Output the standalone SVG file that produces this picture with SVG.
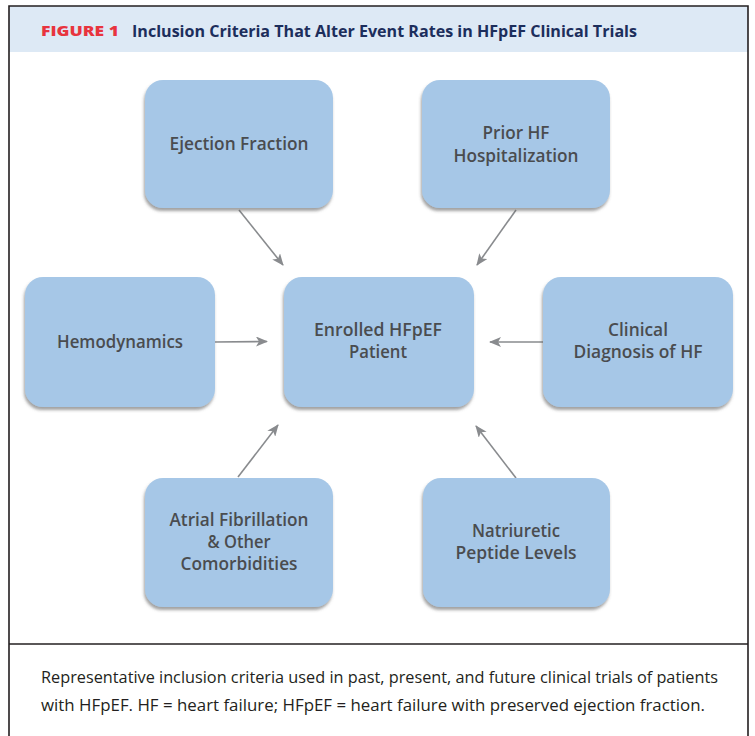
<svg xmlns="http://www.w3.org/2000/svg" width="755" height="736" viewBox="0 0 755 736">
<style>
.box{fill:#a6c7e7;filter:url(#sh);}
.lbl{font-family:"Open Sans","Liberation Sans",sans-serif;font-weight:600;font-size:17.5px;fill:#4a4c4f;text-anchor:middle;}
.cap{font-family:"Open Sans","Liberation Sans",sans-serif;font-size:15.5px;fill:#231f20;}
.arr{stroke:#898b8e;stroke-width:1.6;fill:none;marker-end:url(#ah);}
</style>
<defs>
<filter id="sh" x="-10%" y="-10%" width="120%" height="125%">
<feDropShadow dx="-1" dy="3" stdDeviation="1.8" flood-color="#555" flood-opacity="0.55"/>
</filter>
<marker id="ah" viewBox="0 0 12 10" refX="11" refY="5" markerWidth="12" markerHeight="10" markerUnits="userSpaceOnUse" orient="auto">
<path d="M0,0 L12,5 L0,10 L3,5 Z" fill="#898b8e"/>
</marker>
</defs>
<rect x="0" y="0" width="755" height="736" fill="#ffffff"/>
<rect x="9" y="6" width="739" height="46" fill="#dde9f5"/>
<path d="M9,736 V6 H748 V736" fill="none" stroke="#231f20" stroke-width="1.6"/>
<line x1="9" y1="644" x2="748" y2="644" stroke="#231f20" stroke-width="1.6"/>
<text x="41" y="36" font-family="'Open Sans','Liberation Sans',sans-serif" font-weight="800" font-size="14" fill="#e8343e" textLength="78" lengthAdjust="spacingAndGlyphs">FIGURE 1</text>
<text x="132" y="36.5" font-family="'Open Sans','Liberation Sans',sans-serif" font-weight="700" font-size="16" fill="#1c2e5c" textLength="505" lengthAdjust="spacingAndGlyphs">Inclusion Criteria That Alter Event Rates in HFpEF Clinical Trials</text>

<g id="connectors">
<line class="arr" x1="239" y1="210" x2="283" y2="265"/>
<line class="arr" x1="516" y1="210" x2="477" y2="265"/>
<line class="arr" x1="214" y1="342" x2="267" y2="341.5"/>
<line class="arr" x1="545" y1="342" x2="490" y2="342"/>
<line class="arr" x1="238" y1="477" x2="278" y2="425"/>
<line class="arr" x1="516" y1="478" x2="476" y2="426"/>
</g>

<g id="ejection">
<rect class="box" x="145" y="80" width="188" height="128" rx="18"/>
<text class="lbl" x="239" y="150" textLength="139" lengthAdjust="spacingAndGlyphs">Ejection Fraction</text>
</g>
<g id="prior">
<rect class="box" x="422" y="80" width="188" height="128" rx="18"/>
<text class="lbl" x="516" y="139" textLength="67" lengthAdjust="spacingAndGlyphs">Prior HF</text>
<text class="lbl" x="516" y="162" textLength="125" lengthAdjust="spacingAndGlyphs">Hospitalization</text>
</g>
<g id="hemo">
<rect class="box" x="25" y="277" width="190" height="130" rx="18"/>
<text class="lbl" x="120" y="348" textLength="126" lengthAdjust="spacingAndGlyphs">Hemodynamics</text>
</g>
<g id="enrolled">
<rect class="box" x="284" y="277" width="190" height="130" rx="18"/>
<text class="lbl" x="378" y="336" textLength="128" lengthAdjust="spacingAndGlyphs">Enrolled HFpEF</text>
<text class="lbl" x="378" y="358" textLength="58" lengthAdjust="spacingAndGlyphs">Patient</text>
</g>
<g id="clinical">
<rect class="box" x="543" y="277" width="190" height="130" rx="18"/>
<text class="lbl" x="638" y="336" textLength="60" lengthAdjust="spacingAndGlyphs">Clinical</text>
<text class="lbl" x="638" y="358" textLength="129" lengthAdjust="spacingAndGlyphs">Diagnosis of HF</text>
</g>
<g id="atrial">
<rect class="box" x="145" y="478" width="188" height="129" rx="18"/>
<text class="lbl" x="239" y="526" textLength="139" lengthAdjust="spacingAndGlyphs">Atrial Fibrillation</text>
<text class="lbl" x="239" y="548" textLength="63" lengthAdjust="spacingAndGlyphs">&amp; Other</text>
<text class="lbl" x="239" y="570" textLength="117" lengthAdjust="spacingAndGlyphs">Comorbidities</text>
</g>
<g id="natriuretic">
<rect class="box" x="423" y="478" width="187" height="129" rx="18"/>
<text class="lbl" x="516" y="537" textLength="88" lengthAdjust="spacingAndGlyphs">Natriuretic</text>
<text class="lbl" x="516" y="559" textLength="121" lengthAdjust="spacingAndGlyphs">Peptide Levels</text>
</g>

<text class="cap" x="41" y="683" textLength="677" lengthAdjust="spacingAndGlyphs">Representative inclusion criteria used in past, present, and future clinical trials of patients</text>
<text class="cap" x="41" y="711" textLength="664" lengthAdjust="spacingAndGlyphs">with HFpEF. HF = heart failure; HFpEF = heart failure with preserved ejection fraction.</text>
</svg>
